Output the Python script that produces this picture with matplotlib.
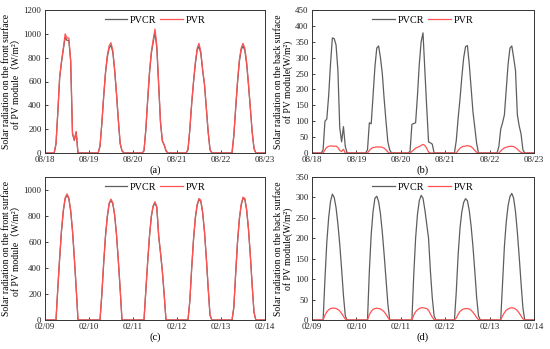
import numpy as np
import matplotlib
matplotlib.use("Agg")
import matplotlib.pyplot as plt

plt.rcParams['font.family'] = ['Liberation Serif', 'DejaVu Serif']

# hourly values from 04:00 to 19:00 for each of the five days (night hours are 0)
hours = list(range(4, 20))

# (a) front surface, August
a_pvcr = [
    [0, 0, 75, 340, 630, 760, 870, 970, 945, 945, 770, 160, 105, 175, 0, 0],
    [0, 0, 55, 245, 470, 670, 805, 880, 905, 845, 690, 495, 275, 78, 18, 0],
    [0, 0, 18, 195, 440, 670, 835, 930, 1010, 880, 570, 255, 100, 68, 18, 0],
    [0, 0, 28, 195, 410, 590, 745, 865, 895, 835, 690, 570, 375, 175, 28, 0],
    [0, 0, 0, 145, 370, 590, 765, 865, 900, 860, 745, 570, 375, 175, 38, 0],
]
a_pvr = [
    [0, 0, 80, 350, 640, 770, 880, 1000, 965, 965, 780, 168, 110, 180, 0, 0],
    [0, 0, 60, 250, 480, 680, 820, 900, 925, 860, 700, 500, 280, 80, 20, 0],
    [0, 0, 20, 200, 450, 680, 850, 950, 1040, 900, 580, 260, 105, 70, 20, 0],
    [0, 0, 30, 200, 420, 600, 760, 880, 920, 850, 700, 580, 380, 180, 30, 0],
    [0, 0, 0, 150, 380, 600, 780, 880, 920, 880, 760, 580, 380, 180, 40, 0],
]

# (b) back surface, August
b_pvcr = [
    [0, 0, 10, 100, 107, 180, 280, 362, 360, 340, 260, 80, 35, 83, 20, 0],
    [0, 0, 10, 95, 92, 180, 270, 330, 337, 300, 250, 170, 100, 35, 10, 0],
    [0, 5, 90, 93, 95, 180, 280, 350, 378, 260, 145, 35, 32, 28, 0, 0],
    [0, 0, 40, 110, 170, 240, 300, 335, 338, 280, 205, 130, 80, 30, 0, 0],
    [0, 20, 75, 95, 120, 200, 280, 330, 337, 300, 260, 120, 85, 60, 10, 0],
]
b_pvr = [
    [0, 0, 0, 10, 18, 21, 22, 22, 21, 22, 17, 8, 5, 12, 0, 0],
    [0, 0, 0, 8, 14, 17, 18, 19, 19, 19, 18, 15, 10, 3, 0, 0],
    [0, 0, 5, 10, 15, 18, 20, 24, 27, 24, 15, 3, 0, 0, 0, 0],
    [0, 0, 0, 8, 15, 19, 21, 22, 23, 22, 20, 15, 8, 2, 0, 0],
    [0, 0, 6, 12, 16, 18, 20, 21, 21, 20, 17, 12, 6, 2, 0, 0],
]

# (c) front surface, February
c_pvcr = [
    [0, 0, 0, 245, 475, 685, 838, 932, 962, 932, 838, 685, 475, 245, 0, 0],
    [0, 0, 0, 195, 435, 645, 795, 893, 922, 893, 803, 655, 455, 235, 0, 0],
    [0, 0, 0, 225, 445, 645, 795, 873, 902, 863, 645, 515, 375, 195, 0, 0],
    [0, 0, 0, 145, 395, 615, 783, 882, 927, 912, 823, 675, 475, 245, 38, 0],
    [0, 0, 0, 95, 355, 595, 773, 882, 937, 927, 843, 695, 495, 265, 58, 0],
]
c_pvr = [
    [0, 0, 0, 250, 480, 690, 845, 940, 970, 940, 845, 690, 480, 250, 0, 0],
    [0, 0, 0, 200, 440, 650, 800, 900, 930, 900, 810, 660, 460, 240, 0, 0],
    [0, 0, 0, 230, 450, 650, 800, 880, 910, 870, 650, 520, 380, 200, 0, 0],
    [0, 0, 0, 150, 400, 620, 790, 890, 935, 920, 830, 680, 480, 250, 40, 0],
    [0, 0, 0, 100, 360, 600, 780, 890, 945, 935, 850, 700, 500, 270, 60, 0],
]

# (d) back surface, February
d_pvcr = [
    [0, 0, 0, 100, 190, 250, 290, 308, 300, 275, 235, 185, 125, 60, 10, 0],
    [0, 0, 0, 120, 210, 265, 298, 303, 290, 260, 215, 160, 100, 40, 0, 0],
    [0, 0, 0, 110, 200, 258, 292, 305, 298, 270, 235, 200, 120, 55, 10, 0],
    [0, 0, 70, 160, 225, 265, 288, 297, 292, 268, 230, 180, 120, 55, 10, 0],
    [0, 0, 0, 90, 180, 240, 280, 302, 310, 298, 265, 215, 155, 90, 30, 0],
]
d_pvr = [
    [0, 0, 0, 12, 20, 25, 28, 29, 29, 28, 26, 22, 16, 9, 2, 0],
    [0, 0, 0, 13, 21, 26, 28, 29, 28, 27, 24, 20, 14, 6, 0, 0],
    [0, 0, 0, 12, 20, 25, 28, 30, 30, 29, 28, 24, 15, 7, 1, 0],
    [0, 0, 5, 14, 21, 25, 27, 28, 28, 27, 24, 19, 13, 6, 1, 0],
    [0, 0, 0, 10, 18, 24, 27, 29, 30, 29, 27, 23, 17, 10, 3, 0],
]

aug_ticks = ['08/18', '08/19', '08/20', '08/21', '08/22', '08/23']
feb_ticks = ['02/09', '02/10', '02/11', '02/12', '02/13', '02/14']

front_label = 'Solar radiation on the front surface\nof PV module（W/m²）'
back_label = 'Solar radiation on the back surface\nof PV module(W/m²)'


def hourly(days):
    y = np.zeros(5 * 24 + 1)
    for d, vals in enumerate(days):
        for h, v in zip(hours, vals):
            y[d * 24 + h] = v
    return y


t = np.arange(5 * 24 + 1) / 24.0

fig = plt.figure(figsize=(5.5, 3.49), dpi=100)
panels = [
    ([45, 10, 220, 143], a_pvcr, a_pvr, 1200, np.arange(0, 1201, 200), aug_ticks, front_label, '(a)'),
    ([312, 10, 222, 143], b_pvcr, b_pvr, 450, np.arange(0, 451, 50), aug_ticks, back_label, '(b)'),
    ([45, 177, 220, 143], c_pvcr, c_pvr, 1100, np.arange(0, 1001, 200), feb_ticks, front_label, '(c)'),
    ([312, 177, 222, 143], d_pvcr, d_pvr, 350, np.arange(0, 351, 50), feb_ticks, back_label, '(d)'),
]

for (px, py, pw, ph), pvcr, pvr, ymax, yt, xt, ylab, tag in panels:
    ax = fig.add_axes([px / 550, 1 - (py + ph) / 349, pw / 550, ph / 349])
    ax.plot(t, hourly(pvcr), color='#5e5e5e', lw=0.9, label='PVCR')
    ax.plot(t, hourly(pvr), color='#ff5252', lw=0.9, label='PVR')
    ax.set_xlim(0, 5)
    ax.set_ylim(0, ymax)
    ax.set_xticks(range(6))
    ax.set_xticklabels(xt)
    ax.set_yticks(yt)
    ax.tick_params(direction='in', length=2.5, width=0.6, labelsize=6.4, pad=2.5, colors='#222222')
    for s in ax.spines.values():
        s.set_linewidth(0.7)
        s.set_color('#333333')
    ax.set_ylabel(ylab, fontsize=6.9, linespacing=1.05,
                  family=['Liberation Serif', 'Noto Sans CJK SC'])
    ax.yaxis.set_label_coords(-0.11 if px < 100 else -0.085, 0.5)
    ax.text(0.5, -0.12, tag, transform=ax.transAxes, ha='center', va='center', fontsize=7.6)
    ax.legend(loc='upper center', ncol=2, frameon=False, fontsize=7.3,
              handlelength=2.2, handletextpad=0.3, columnspacing=0.4,
              borderaxespad=0.15)

fig.savefig('out.png', dpi=100)
